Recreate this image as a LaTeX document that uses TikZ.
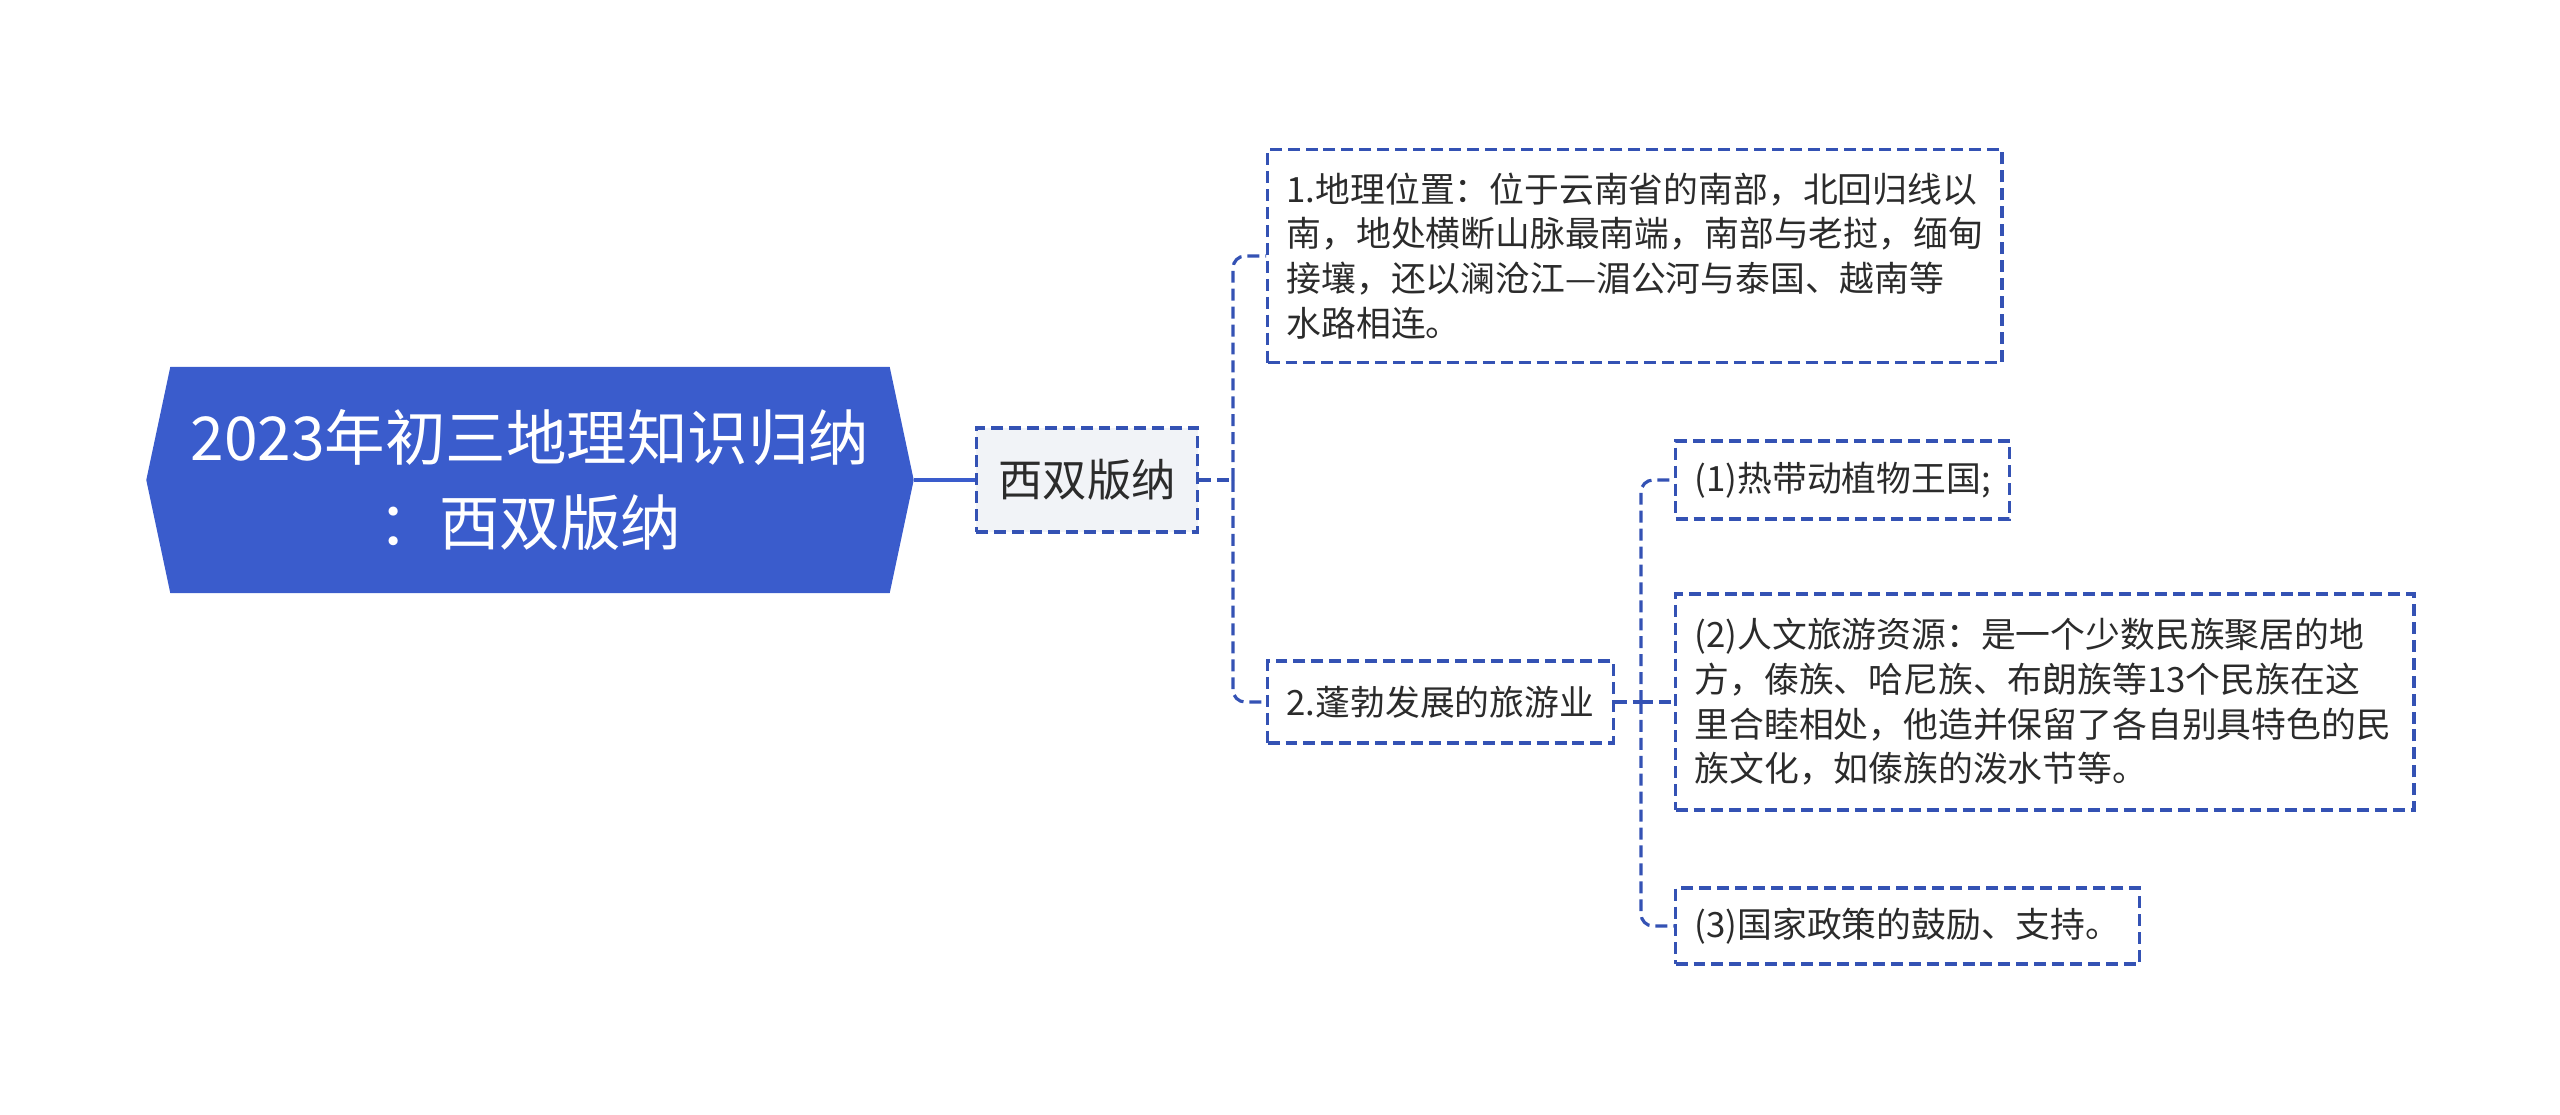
\documentclass[tikz,border=0pt]{standalone}
\usepackage{fontspec}
\setmainfont{Noto Sans CJK SC}
\definecolor{rootblue}{HTML}{3A5CCC}
\definecolor{linkblue}{HTML}{3452B4}
\definecolor{boxgray}{HTML}{F1F3F7}
\definecolor{txt}{HTML}{2B2B2B}
\tikzset{
  rootbox/.style={minimum width=7.67cm, minimum height=2.26cm, text=white, align=center,
    font=\fontsize{17.2}{24}\selectfont,
    path picture={\fill[rootblue]
      ([xshift=0.24cm]path picture bounding box.north west) --
      ([xshift=-0.24cm]path picture bounding box.north east) --
      (path picture bounding box.east) --
      ([xshift=-0.24cm]path picture bounding box.south east) --
      ([xshift=0.24cm]path picture bounding box.south west) --
      (path picture bounding box.west) -- cycle;}},
  dashbox/.style={draw=linkblue, line width=0.9pt, dash pattern=on 3.4pt off 1.7pt},
  midbox/.style={dashbox, fill=boxgray, text=txt, font=\fontsize{12.6}{15}\selectfont,
    inner xsep=0.22cm, minimum height=1.04cm},
  leaf/.style={dashbox, fill=white, text=txt, font=\fontsize{9.9}{12.7}\selectfont,
    align=left, inner xsep=0.19cm, anchor=west},
  conn/.style={draw=linkblue, line width=0.9pt, dash pattern=on 3.4pt off 1.7pt, rounded corners=0.12cm}
}
\begin{document}
\begin{tikzpicture}[x=0.01cm, y=-0.01cm]
  \useasboundingbox (0,0) rectangle (2560,1115);

  \node[rootbox] (root) at (530,480) {2023年初三地理知识归纳\\：西双版纳};
  \node[midbox] (xsbn) at (1087,480) {西双版纳};
  \draw[rootblue, line width=1.4pt] (root.east) -- (xsbn.west);

  % first level
  \node[leaf, text width=6.96cm, minimum height=2.13cm] (geo) at (1266,256)
    {1.地理位置：位于云南省的南部，北回归线以\\南，地处横断山脉最南端，南部与老挝，缅甸\\接壤，还以澜沧江—湄公河与泰国、越南等\\水路相连。};
  \node[leaf, minimum height=0.82cm] (tour) at (1266,702) {2.蓬勃发展的旅游业};

  \coordinate (j1) at (1233,480);
  \draw[conn] (xsbn.east) -- (j1);
  \draw[conn] (j1) |- (geo.west);
  \draw[conn] (j1) |- (tour.west);

  % second level
  \node[leaf, minimum height=0.78cm] (nature) at (1674,480) {(1)热带动植物王国;};
  \node[leaf, text width=7.0cm, minimum height=2.16cm] (culture) at (1674,702)
    {(2)人文旅游资源：是一个少数民族聚居的地\\方，傣族、哈尼族、布朗族等13个民族在这\\里合睦相处，他造并保留了各自别具特色的民\\族文化，如傣族的泼水节等。};
  \node[leaf, minimum height=0.76cm] (policy) at (1674,926) {(3)国家政策的鼓励、支持。};

  \coordinate (j2) at (1641,702);
  \draw[conn] (tour.east) -- (j2);
  \draw[conn] (j2) |- (nature.west);
  \draw[conn] (j2) -- (culture.west);
  \draw[conn] (j2) |- (policy.west);
\end{tikzpicture}
\end{document}
